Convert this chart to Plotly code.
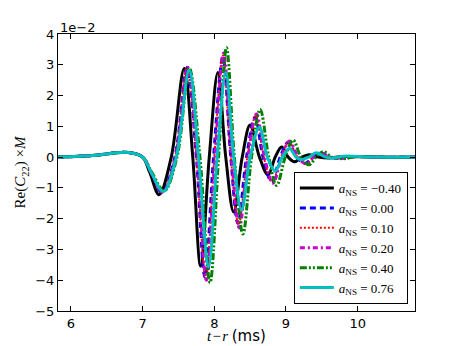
import plotly.graph_objects as go

# waveforms, values in units of 1e-2
t_m040 = [5.82, 6.3, 6.8, 7.0, 7.1, 7.23, 7.4, 7.58, 7.7, 7.81, 7.93, 8.05, 8.16, 8.27, 8.39, 8.5,
          8.63, 8.75, 8.85, 8.94, 9.03, 9.12, 9.22, 9.32, 9.45, 9.6, 9.8, 10.2, 10.8]
c_m040 = [0.0, 0.05, 0.15, 0.0, -0.5, -1.22, 0.0, 2.88, 0.0, -3.54, 0.0, 2.75, 0.0, -1.78, 0.0, 1.04,
          0.0, -0.58, 0.0, 0.33, 0.0, -0.15, 0.0, 0.08, 0.0, -0.03, 0.02, 0.0, 0.0]

t_000 = [5.82, 6.3, 6.8, 7.0, 7.12, 7.27, 7.45, 7.62, 7.75, 7.87, 7.99, 8.12, 8.23, 8.33, 8.45, 8.57,
         8.68, 8.8, 8.92, 9.03, 9.15, 9.27, 9.37, 9.47, 9.6, 9.75, 10.0, 10.3, 10.8]
c_000 = [0.0, 0.05, 0.15, 0.0, -0.5, -1.15, 0.0, 2.9, 0.0, -3.9, 0.0, 3.25, 0.0, -2.15, 0.0, 1.3,
         0.0, -0.8, 0.0, 0.48, 0.0, -0.2, 0.0, 0.12, 0.0, -0.04, 0.02, 0.0, 0.0]

t_010 = [5.82, 6.3, 6.8, 7.0, 7.12, 7.27, 7.45, 7.62, 7.75, 7.88, 8.0, 8.12, 8.23, 8.34, 8.46, 8.58,
         8.69, 8.81, 8.93, 9.04, 9.16, 9.27, 9.38, 9.48, 9.6, 9.75, 10.0, 10.3, 10.8]
c_010 = [0.0, 0.05, 0.15, 0.0, -0.5, -1.15, 0.0, 2.92, 0.0, -3.95, 0.0, 3.3, 0.0, -2.2, 0.0, 1.35,
         0.0, -0.82, 0.0, 0.5, 0.0, -0.22, 0.0, 0.13, 0.0, -0.04, 0.02, 0.0, 0.0]

t_020 = [5.82, 6.3, 6.8, 7.0, 7.12, 7.28, 7.46, 7.63, 7.76, 7.89, 8.01, 8.13, 8.24, 8.35, 8.47, 8.59,
         8.7, 8.82, 8.94, 9.05, 9.17, 9.28, 9.39, 9.49, 9.62, 9.77, 10.0, 10.3, 10.8]
c_020 = [0.0, 0.05, 0.15, 0.0, -0.5, -1.14, 0.0, 2.92, 0.0, -4.0, 0.0, 3.38, 0.0, -2.3, 0.0, 1.4,
         0.0, -0.85, 0.0, 0.52, 0.0, -0.22, 0.0, 0.14, 0.0, -0.04, 0.02, 0.0, 0.0]

t_040 = [5.82, 6.3, 6.8, 7.0, 7.13, 7.3, 7.48, 7.65, 7.8, 7.94, 8.06, 8.17, 8.28, 8.4, 8.52, 8.64,
         8.76, 8.87, 8.99, 9.1, 9.21, 9.32, 9.42, 9.52, 9.64, 9.8, 10.0, 10.3, 10.8]
c_040 = [0.0, 0.05, 0.15, 0.0, -0.5, -1.1, 0.0, 2.9, 0.0, -4.08, 0.0, 3.56, 0.0, -2.5, 0.0, 1.55,
         0.0, -0.92, 0.0, 0.55, 0.0, -0.25, 0.0, 0.18, 0.0, -0.05, 0.02, 0.0, 0.0]

t_076 = [5.82, 6.3, 6.8, 7.0, 7.12, 7.29, 7.47, 7.65, 7.78, 7.92, 8.04, 8.16, 8.27, 8.38, 8.5, 8.63,
         8.74, 8.85, 8.95, 9.05, 9.14, 9.2, 9.32, 9.42, 9.55, 9.65, 9.8, 10.2, 10.8]
c_076 = [0.0, 0.05, 0.15, 0.0, -0.5, -1.12, 0.0, 2.82, 0.0, -3.56, 0.0, 2.75, 0.0, -1.72, 0.0, 0.97,
         0.0, -0.45, 0.0, 0.28, 0.0, -0.08, 0.0, 0.14, 0.0, -0.03, 0.03, 0.0, 0.0]

labels = ["\u22120.40", "0.00", "0.10", "0.20", "0.40", "0.76"]

series = [(t_m040, c_m040), (t_000, c_000), (t_010, c_010),
          (t_020, c_020), (t_040, c_040), (t_076, c_076)]
styles = [("black", "solid", 3), ("blue", "6px,4px", 3), ("red", "2px,2px", 2),
          ("#cc00cc", "5px,3px,2px,3px", 3), ("green", "7px,2px,2px,2px,2px,2px", 3),
          ("#00bfbf", "solid", 3)]

serif = "Liberation Serif, DejaVu Serif, serif"
fig = go.Figure()
for (t, c), lab, (col, dash, w) in zip(series, labels, styles):
    fig.add_trace(go.Scatter(
        x=t, y=c, mode="lines", line=dict(color=col, dash=dash, width=w, shape="spline", smoothing=1.0),
        name=f"<i>a</i><sub>NS</sub> = {lab}"))

axis_common = dict(showline=True, linecolor="black", linewidth=1, mirror="ticks", ticks="inside",
                   ticklen=5, tickcolor="black", showgrid=False, zeroline=False, automargin=False,
                   tickfont=dict(family="DejaVu Sans", size=13, color="black"))
fig.update_xaxes(range=[5.82, 10.8], tickvals=[6, 7, 8, 9, 10], **axis_common)
fig.update_yaxes(range=[-5, 4], tickvals=list(range(-5, 5)),
                 title=dict(text="Re(<i>C</i><sub>22</sub>) \u00d7<i>M</i>",
                            font=dict(family=serif, size=15, color="black"), standoff=5),
                 **axis_common)

# x title as an annotation so it sits low but stays inside the page
fig.add_annotation(text="<i>t</i>\u200a\u2212\u200a<i>r</i> <span style='font-family:DejaVu Sans'>(ms)</span>",
                   xref="paper", yref="paper", x=0.5, y=0, xanchor="center", yanchor="top", yshift=-14,
                   showarrow=False, font=dict(family=serif, size=15, color="black"))

fig.add_annotation(text="1e\u22122", xref="paper", yref="paper", x=0, y=1, xanchor="left", yanchor="bottom",
                   showarrow=False, font=dict(family="DejaVu Sans", size=13, color="black"), yshift=-3)

# the page body adds an 8px margin, so the figure is 8px smaller to land in the same spot
fig.update_layout(
    template="none",
    width=453, height=338, margin=dict(l=50, r=46, t=26, b=35, autoexpand=False),
    paper_bgcolor="white", plot_bgcolor="white",
    legend=dict(x=0.98, y=0.025, xanchor="right", yanchor="bottom", bgcolor="white", itemwidth=34,
                bordercolor="black", borderwidth=1, font=dict(family=serif, size=13, color="black")),
)
fig.write_html("out.html")
